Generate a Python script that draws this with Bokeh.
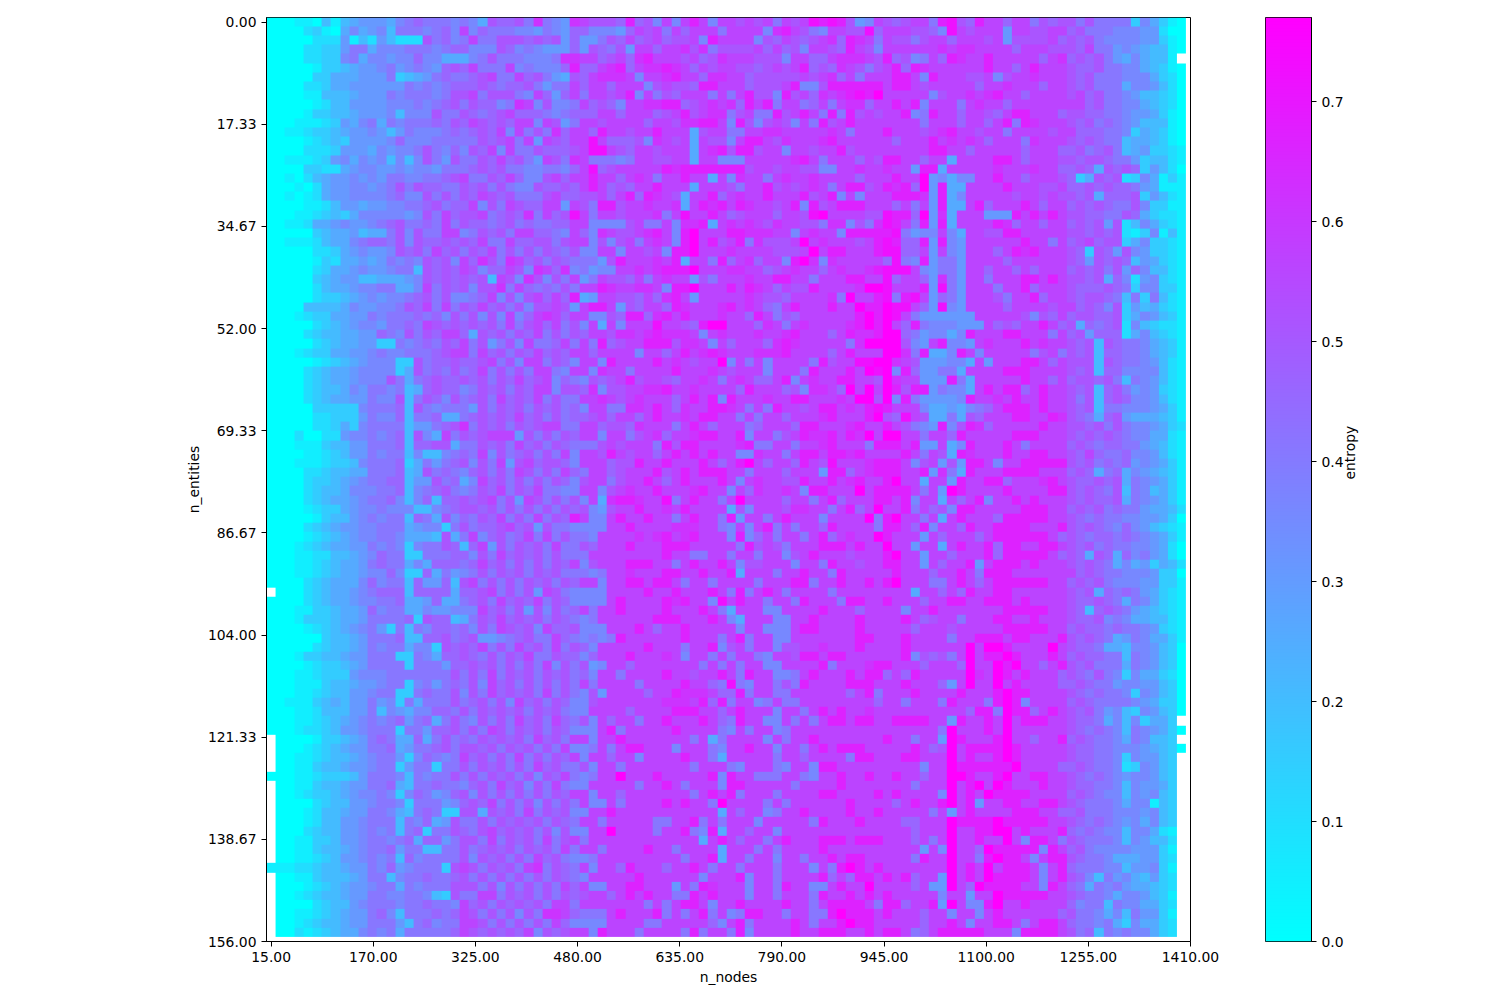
import math
import numpy as np
from bokeh.embed import file_html
from bokeh.layouts import row
from bokeh.models import FixedTicker, LinearColorMapper, Range1d
from bokeh.plotting import figure
from bokeh.resources import INLINE

x_tick_labels = ["15.00","170.00","325.00","480.00","635.00","790.00","945.00","1100.00","1255.00","1410.00"]
y_tick_labels = ["0.00","17.33","34.67","52.00","69.33","86.67","104.00","121.33","138.67","156.00"]
cbar_ticks = [0.0,0.1,0.2,0.3,0.4,0.5,0.6,0.7]
entropy_max = 0.77
n_cells = 100

# Cell values, one hex digit per cell: 0 = 0.0, f = entropy_max, "." = no data.
left_rows = [
"000110414566657898887875a99a8c876","000023105756748887897b79888776876","00000222614264222a8978b88aaa9a9a6","0000223368857778887899777a9787666",
"000022337857767797755578a8887778c","00000133456678678769a9b888b787779","00000335556668345689889ab88b9a865","00002235566666687878999a9899a8688",
"00001144456668788878aab8aaa87b969","00000124466667778789a8a9978cb7a77","000013344566674777a88a989ab999878","00011123657858788898a9ba9a9bb7ba6",
"00112334566764687778989a9b7b8a8c9","00001234366667977788888a9ab8b6ba9","00002223666576778a8797a9b7b88a999","00111236757674747a86a88a9b9a86ba8",
"00003322567766767768889a9a8877887","00102456676768877889ab88a9b977ab9","00010256677678a8a9988a9a8a877a99a","00101256677778977a8a8a9ba9a888ab9",
"000011246656677889a899b7a8ba99bb6","00011234357777767a8b9aab89a9c8b9a","00112556766789a8898b8a9989a898899","00000345564558a7a88bb78a9a8bb9987",
"00111245578998a7a99a9a9b88b99aa8a","00000223567667a9a8b9a8a9b8a8a8a98","00000132556568787a9a7b9ca8cb9a8a9","00000235567667884a9a9ba799ba7cb9c",
"00000345664455567a9a9a9a4ba7ca7a8","00000245567788557b8a9a7aac8b9898a","00000233456767789a8a7789b7a7ab9b9","000044445766778a9b8b8a9b9a8a7aaba",
"00012335566878889897a8a7a7b79bcb9","00000234567768898ba9a9a9a8b8ab9b8",
"00002344556 6987a8a9bb9 5a9a8a9b8a8","00000234556 63387898a9b 8a68a7b889b","00012335566 78778889abb 8b9a8a9b9a9","00000123456 77733a899a9 9ab8a7bb8a9",
"00002345567 77735a898a8 9b8a8a8bb87","00002345567 77a8589a99a 9a8a9b9ab79","00002344576 8878459a997 8a9a8a9bb7a","00002345566 877a48a97a8 9a8b9a9b8a8",
"00000333337 88894a87888 6a8a9a8a9a8","00000223336 87794889558 9a9a9b9a8a8","00000223537 888846689ac 8a9a8a9abb8","00020022677 87894a75b8a 9abbb6a8a8a",
"00011134466 8889499aa58 8a9a8b9a8a9","00001123466 87884744789 8b7a89a8a8b","00011123347 8889358689a 7a8b6ab9aa9","00002234455 888945a8987 9a8a8ba8a8b",
"00002334567 8899466a895 7b9a8a8a8a9","00002344577 78894789a87 8a9b8a9b887","00002345567 8897479499a 9ab8a6ba8a8","00001233567 7877744789a a9a8a8a8a8a",
"00000134467 87884985a79 8a9b8a8b8a9","00002345667 7888567738a 899ab9a6a88","00001234567 78875554a58 b79a89b8b8a","00012345566 87873788a94 9b6a8a9a8b8",
"00011224456 79883388899 7a8b9a9a8a8","00011234556 89885759998 9b9a8a8a8a9","00011234556 77973395867 8a8a9a8a9a8","00002345557 9788496694a b8a8a8a9a8a",
".0002345567 89994999959 9ab8a8a6ba8","00002345567 78895569558 9a8b9a9b8a9","00011334556 97885576677 7b9a8a6a7a8","00013334556 888893a9945 8a9b9a9a8a9",
"00001234567 86384879989 7a8ba9a7b99","00000034456 88894499a89 a66789a88b9","00000234456 87885773a9a 9b8a8b9a8b8","00013344566 8883387599a 98a8a9b88a9",
"00001233456 88883888699 a9a8a8a8b7a","00011233367 778888888a8 a8b8a9a8a9a","00011134456 67883786898 a7b9a8a8a8a","00011234466 788338988a7 a8b9a9a8b8a",
"00111345466 867385888a8 9a8a7b9a8a9","00011244466 8476577998a 8a9a9a8a9a8","00011234567 878968958a8 7a8a8b9a8b9","00012234667 888388699a8 a8ba8a9a8a9",
".0000133456 89855958a89 8a9a9a8b9a8",".0001234566 88956889a8a a9a8a9a8a8b",".0011234456 7886379878b 9a8a8b8a8a9",".0011344566 7883688388a 8a9a8a8b9a8",
"00011233346 888748788a8 a8a9a8a7a9b",".0011344566 88954889887 9a8b9a7a8b8",".0012334567 7873798679a 7a8a8a8a8a9",".0000234466 78873888679 a9b8a8a7a8a",
".0001244566 8875489833a a5a9a8b8a9a",".0001244667 888487956a8 8a8a9a9a8a9",".0002344667 878489388a9 8ab9a9a8a7a",".0011334667 8878959968a a8b8a9a8b8a",
".0011344567 8896884488a 89a9a8a9a8b",".0011234667 8784978888a 7a9a8a8b9a8","11122344566 879678883ab a8a9a8bc8a9",".0011344456 8847889889a 8a8a8a8a8a9",
".0001234566 788587888aa a8a7a8a8a8b",".0012344566 887788743a8 8bb8a9a8a8a",".0000234467 8887889887b 9a8a9a9a8bb",".0011234566 8974888989b a8a8a7a8ccb",
".0012344566 8886489788b ba8a8a8a8b9",".0021234557 8785888889b a9a9a9b7a9a",
]

mid_rows = [
"cbaaa9d9a7b7bdb7bbabab8babededa67bb","9977769bab8b9bbb8bbbb7cdba87bbaae9a","9668a9b9ab9aab7dbbbb7a9ba9abc9dcb8","96a98a6bb9bbcac8aaaab9b9a7bba9dba7",
"cbb9ab9cdbbbab9acbbbaaa7bb99bcccba","d99bcd9bccdcb9babbaa9ababd9a9cba8a","a9bcccb7bbcdbb9ccbb9aaaaababc9b8bb","b9bb9bbb7abaa9ddbbb9aaabd77adddddd",
"b8bbabd7b8a9bbb8b8bdaa7dab9cbcdedf","8b9a97bbccdd9abcbc9dbd8bb89b8bcc9b","999bb9bbb9abdabcc8ab88dabdb8d8daba","8bbabbbb9bbaccddb7da7aba7b8dabdbbb",
"bb9dbbabbdbbb5abb88bbccbbbbbcb8bbb","bbeb999a7cbab5baa7bddbacbbbcdbbbbb","abeeba9bbabbb5bcdaddabb7bbabbdabbb","cb88878bbaabb5bb777bbbbbcdb8bbb9ba",
"9be9abbbbbdcdddddddabbabbaa77bbcbb","bbdbb9bcb8bbdbb5b7cbb8bcbbcbbbb9bb","9bdb9a9bbdbbb5bbba8bbdababcb8bddab","9aab9bd9dcba5bbd9bcbbdbbbdabd7b7bb",
"ba8ddabbcbbc5bdcdbdcbbabd7dabdddbb","eb8bbabbbc8bebbdb9abbb9bbaefbbbbaa","bb7777ab88b7ccd5bcbcbacbbaa8cc7a8c","b97cbaabcdb7dfbbbddcccbb7bcbb7dddd",
"bb7a7ab8bcb7dfbdabd8caaabfbcbbbabd","a77bb7bbab7ddfbbbcbbbbaaabfbddbbbd","8886adbbbcbd5bb8d9bc9bb7dfc7cbbbbb","78677bbcbcdddfbbbccbb9abcbb9bcbbcd",
"b68baa9b8bcbb6a8bbbcbbddbb8bbbddbb","8bbdcbbccb7ddfbbbdbdcb9baadbbbbcff","d56bbaa9b9cdb6bbbbbcbaa9bbbbc8fbbd","6bddb6a9bb9dcbbbcdbcb98bdbbbdbbfdd",
"bb77a9dd9cdbdbbbcbb9db8a9bbbbbbdfd","a7b5b7bbbebba9dffbbb9cb8bcbbbbcdfd","a9bbaccbcdcccb7bcbbbcbbcdbbb9bdccd","8b8d9abbdddaccb7b9bbb9cdcbbbbb8cff",
"bb9bbbb7bb9bdbcdcbbbcccdbbbb9bdbbb","7bb7dbbbbdbcbabbf7b8b7bbbb8dabbeef","bb7cbb8bbbbdbbbcbabbb7bbb8dbbbdbfe","87a9abdabba9bbcb8bcb99bd7bcbbddbba",
"a9c7aabbccdbbcbbbb9dbbb9a7ccb9fbfb","8bbcbabcbbb9bdbd7dbbbcbbddbbbcbffa","97bb88ccbdb9cbbddcb8b8dbbabddbcbde","99ab9bb9bdbbcbddbb8b8bb9bbbcdbbbdf",
"8bb9aa9cbbb8bdb9bbb89bbb9ddbbbcdbb","9bb7bb8abc9bbcddbbd7bb8abdccdbdcfb","888ababbb8daddbbbbcd88bb8bbcdbbb8d","7bbadbabb9bdbdbdbb77cbb8bddbddcdbb",
"7bbb9aadbbdbbbdb9bdfb9bb9dbaebbbcd","98bb9abbbdabdbdddbb8bbb9bbb6dd9bcd","7abb8abbdb9bdbbbdb7bcbbaadbbdbcdbb","7bb7abcbbdbbbcdbb7b9cbbcb7ddbbbfbd",
"a7b5cddcbbe8bdbb8bfbbbb9bb8bd9bbbd","9a76abbdbbcbdbbbb5a7bbbaccbb8bd9bf","db77bdbbdbb8bdbb8d6bb8bdbbb7bbbbf8","7777bbdbbbbcccbb87b7bd8b8bb9dbbbb8",
"887bbbbcbcdbcdbbb7d79b8bb8bd9bcbbf","8a9bbbdbbbdddbbbbb8daba8bbbdddbdbb","88bbbbbbbbdbb88bb8bb8bb7abdbbbabbb","b7abbbdddbb8bdbbdb7aabbb7bb8dbbabb",
"8878bbcbbbddbbdbbd5bbb8bbdbb8dbbbb","9bb7bbddbddb8bb8bbbb8bbbdd8bbdbbdb","7777bbbbdbbdbbbdb8d8bdb8bbbb8bbbbb","7777bdbbbbdcdbb7ebdbb8bb8dbbb8ddbb",
"9b8bbdbbbbdbbbdb85bbb77bbbbdbbb9bb","878bbbbbbdddbbbdb75bbb77bbdbbbbdbb","a777bbbdb9bbdbbbbb7bb777bddbbbbdbb","87878dbbbbbbdbbb8bd8bb77bbbbbbbddb",
"a97bbbbbdbbb8bbd7ab8bb7aabbcbbbdbb","979bbbdbbbcb7bb8b8bb87bbaddbddbbbb","8a67bb9bbbbbbb8b8b8bb77bbbbd8bbbcd","897bb8bbbbdbbabbdb8dbb778bdbbbdbdd",
"8b8bbbb8bbbbdbb98e87bb8a8dbbbbdddb","87a6bbbb9bbdcccb99d8bb88bbbbbb9bd8","77abbbbbbbcccbd9d8bb78b88bbbbbbbb9","77bbbb9bbbbdddbb9bdbbb7bb8bdbdbbcb",
"8a7b9bb8bbdbbbdb98dbb77b8b8bddbddb","777bd8bbbbbdbbbb87b8bb78bbbbbbbbbb","bb7bbdbbbbbbb8b58bbbb7b8bbdbbbbbbb","778b8bddbbb7bbb87bbdbb7bb8bdbdddbb",
"b7bb9bb7bbbbdbb85bbbbb8bb9bbbb8ddb","8a7bb8bbbbbbb8bbb87bbb87bb7ddbbbbb","878bbfbbbdbbbbbd7dbb888bb87bbdbbdb","77bbbbb8bbdb8bbb7ddbbbbb8bbbbdbbbb",
"bb7bb9bbbbbbb8bdbd8bbb8bbbbddbbbbd","8b77b8bbbbdbdbb8fbbbb8b8bbbbbbdbbb","77bbdbbbbbbbbbbb5b9bb78bbdbbbbdbbd","8bb8bbbbb88bbd8b8bbb7bbbbb8dbbbdbb",
"77bbfbbbb8bbd87d5bb9bb7bbbbbbbbbbb","b8bbbbbbbbbbbb5bdb9bb8bdbbbdddbddd","8bb8bbbbdbb8bbbb5bbb8b8bbbbdbbbbbb","778bbbbbbbbb8bbd5bb8bb7bb8bbdbddbb",
"8b7bb9dbbb9bbdb8bb8bbb8bbb7b8dfdbd","87bbbbbdbbbbbb7bbbd7bb8bbbbd9b9ddb","9b77bbddbbb6b8dcbbb7bb8dbb77bdbbfb","9abb9bdbdbb88dbdbbb7bb8bbb8dbbdbdb",
"8bbbbbbb8b8bddb7bbdbbbbdbb8bddddb8","9888bdbbbd8b8bd8b78ddbb8bb88dfdddb","7777bbbb88bbbbb97bd8bbbbdb8bbdfddb","bb7dbbb8bbbb8d8bb8d7bbbbdbbdddbbdb",
]

# Right part of each row, columns 67-77 ...
right_a = [
"a9abb8dea9d","bbbaa97ebab","baa8abb9bbb","bbbbbbcbccb","d9a78b9dcbb","bd9dcbbbbbb","bddb7dbbbaa","bddbabbbbb9","bbbbb7abbcb","bdbd7bbb8bc",
"bbd78dbb9bb","bbbb8bbb9bb","dbbbabcdbba","b9bbbdbcbcb","bbbbbddbb9b","ddbb9bb5bbb","cbb6dd5bbbb","bdbbf67577b","dcd9f6d55bb","bdddc6d57bb",
"b9b8b6d55bd","edd9f6c5bbb","edb8d6d5bbb","de8677b75bb","ed99d6d76bb","ee99b6b76bb","9e87d6886bb","eeeb76886bb","e9bb96c86bb","ebbbd6e86bb",
"e8deb6986bb","feeb96e76bb","feb8666666b","fb9d8777666","ff9867757db","ffa76bd776b","ffc8d557db7","fcba666775b","f7d966885bb","fcbb666d85b",
"fdadd68775b","f7d866667db","dbbb7556578","a9eba5585a9","dba876d7adc","ffbb8bb9dbb","ddbd66b57db","bbdb8ba5dcb","ddb7ab6a6dd","ddbbd6c85db",
"dfbb5bb6dbb","dddb8b6fdbb","dbd7bb5b9bd","bbd8b9a7ddb","dfbb8b5bdbb","ddb9d7bb9db","dbbb6b9bbb9","fbb6bb5bdbb","dfbb6bb9bbb","ddbb6b9bbd6",
"bdbbb9bbdb8","dfbbb88bdb9","bbb5bb9b9db","dbbb9bbddbb","bb7bbdbbbbb","bbdb9abb8bb","bbb9bbbabbb","bbdbbbb8bbd","bbdbbbbbbfb","bbd7a9a8bfb",
"dbbb9bbb9fb","9b9dbbbbbfc","bbdbbb96bfb","bbbdbbbbdbb","bb8bbb8dbbb","bbbbbbbbb9d","bddddbb6dbb","bbbbbb8fbbb","dbb8bb6fdbb","bbbdb9afbdd",
"bbddbbbfbdb","bbbb7bbfddd","bdbb9bbffdb","bbb8bbbfbdf","bdbbbb7fbdb","b9bdbbdfbd6","bbbbb8b6bdb","bb99bbbfddd","bbb9bbbfbbd","bbb9b8bfbbd",
"bbbb6b7fbb9","bbb8dbbfbb8","bbbbbbbfbdb","dbd9bb6fbdb","bbb9b66fb9f","dbbbbb7bb6b","dd9bbd6fb77","dbbb9bb7bb7","bbbb9bbdb7b","ddb89bddddd",
]
# ... columns 78-86 ...
right_b = [
"bb9bb8a9a","bb6bbaabb","ab6aaaab9","bbb9bbbaa","dbbbbb9bc","dbb9bdbbb","b7abbcbbb","bbcbbb9bb","cdbb9bbbb","bb9bbbbbb",
"a9bddbbb9","9bd8dcbbb","bb8bbbbab","9bbb8cbbb","bbbb9bbb9","bddb9bbba","bcbbbcbb9","bdbb9bbba","bbdbbbaab","bbbabbaba",
"9bbbdb9bb","666dbdbdb","bdc9bb9bb","aaddbbbbb","bbbbdbb8b","b9bdcdbbb","bb9bbbbbb","9bb9b9bbb","8bbbddbdb","b8bbd9bbb",
"ba8bbd9bb","bb9bbbbab","bbbba7a9b","b9a9bbdb9","bbddbbb8b","cbbbdbcbb","bbbbb8ab8","6bbbddb9b","bbdddbbbb","bbbbdbb9b",
"dbdd9bdbb","bcbdbbdbb","9bdddbdbb","bbbddbbdc","9bbbbbdbb","bbbdddbbb","bbdb8bbbb","bbdbbddbb","b7bbddddd","bbddddbbb",
"dd9bbbcdb","bbdbbbbdd","7bbdbdbbb","bbbbdddbb","b9dddddbb","bddddbbbd","bddddddb9","d9ddbbddb","d9dddddb9","bdddbdbbb",
"dddbbbbbb","bddddddbb","bddbbbbbb","dddbdbbbb","bbdddddbb","bddbbdbbb","bbdddddbb","ddbddbbbd","ffdbbbbfb","ddfdbbbdb",
"bfdfbb9bd","bfdbdbbb9","bfbdbbbb9","bdfddbbbb","8dfd7bbbb","d8fdd9bdb","dbfbdddbb","dbfbbbbbb","bdfbb9bbd","ddfdbbbbb",
"bdfdbbbbb","dddfbbbb9","bdfbbddbb","bfdbbbdbb","fddddbbbb","bbddbbddb","bbbdddbb9","dfdddddbb","dffbdbbbd","bbfb7ddb8",
"fddddd7db","dfddb7bdd","fbdddb7bd","fddddb7bd","ddddbb7db","bfdddddbb","dfbbdbbbb","bdbbbbbb9","bddb8bddb","bbb7ddddb",
]
# ... columns 87-99, where the blue-to-cyan edge and the no-data gaps are.
right_c = [
"a8a8888375310","9a88877766200","a9a8777766310","a9b8867654410","9a9a86575441.","a99a887754310","a9a8887775320","a9a8885776420","ab9a887644320","bb9a887754320",
"aa99887665310","a9a8987644410","b999887354310","a9a9884554310","9a89a84563321","a9aa988634421","9a95a9a936420","935a9a2375131","99a9a99865111","a9a5999a36421",
"9a9a988a73311","aa9988a953221","9a9a6a2475321","aa9a9a2137141","9ab9aa3573321","a93a96a763321","a96a9a9465321","9a9a8a6974421","aa9a597267321","a999a98377331",
"a9aa984838421","b9a97a3645321","9aa99a3576431","a5989a2743221","9a69992574321","a9a4a98875431","a9a4998875431","aaa4a98876421","a9a4997777421","9aa9a84876421",
"a9a49a8676321","a8a49a9776421","a9a4887776531","a9859a6555431","aa9a8a8776532","a9a9a98775521","9a98998865421","a9b9889776421","a9a8989676531","9a95895765431",
"a99a9a5876531","a9a98a4874531","a9a99a5876531","9a9a898865542","a989887766530","a9a9879764321","a989989876531","a9a8988776520","a95a959786520","a9a9857563542",
"b9a9887776330","9a9a877766331","a9a5989865321","a99a985875321","a949a98654321","a99a787554421","9a99898876321","a9a9856875531","a998554776430","9a99884876430",
"a9a8885876430","a98a873755320","9a98867766430","a989887376430","9a98888765330","a9a8674376430","a99857473553.","a989874876530","9a9887587443.","a998877765430",
"a99887376643.","9a9887237643.","a98987677643.","a99887476653.","9a9877476743.","a98887577143.","9a8887776743.","a98987675743.","989877477521.","a98887476442.",
"9a8777766631.","a98875556632.","988877466731.","a97486754632.","985878655432.","a98875776431.","978848775532.","a88757486631.","988785375532.","a89487877532.",
]

def to_cells(rows, size):
    out = []
    for text in rows:
        text = text.replace(" ", "")
        text = (text + text[-1] * size)[:size]
        out.append([np.nan if c == "." else int(c, 16) / 15 * entropy_max for c in text])
    return np.array(out)

grid = np.hstack([to_cells(left_rows, 33), to_cells(mid_rows, 34), to_cells(right_a, 11),
                  to_cells(right_b, 9), to_cells(right_c, 13)])

palette = ["#%02x%02xff" % (i, 255 - i) for i in range(256)]
mapper = LinearColorMapper(palette=palette, low=0, high=entropy_max, nan_color=(0, 0, 0, 0))
FONT = "DejaVu Sans"

def style_axis(ax):
    ax.major_label_text_font = FONT
    ax.major_label_text_font_size = "13.9px"
    ax.major_label_text_color = "black"
    ax.axis_label_text_font = FONT
    ax.axis_label_text_font_size = "13.9px"
    ax.axis_label_text_font_style = "normal"
    ax.axis_label_text_color = "black"
    ax.axis_line_color = "black"
    ax.major_tick_line_color = "black"
    ax.major_tick_in = 0
    ax.major_tick_out = 5
    ax.minor_tick_line_color = None

# Row 0 is at the top: the y scale counts upward from the bottom of the frame.
p = figure(frame_width=924, frame_height=924, output_backend="svg", toolbar_location=None,
           x_range=Range1d(-0.5, n_cells), y_range=Range1d(-0.5, n_cells),
           min_border_left=266, min_border_top=17, min_border_right=31, min_border_bottom=59,
           x_axis_label="n_nodes", y_axis_label="n_entities")
p.grid.visible = False
p.outline_line_color = "black"
p.image(image=[grid[::-1]], x=-0.5, y=0, dw=n_cells, dh=n_cells, color_mapper=mapper)
positions = np.linspace(0, n_cells, 10).tolist()
xaxis, yaxis = p.xaxis[0], p.yaxis[0]
style_axis(xaxis)
style_axis(yaxis)
xaxis.ticker = FixedTicker(ticks=positions)
xaxis.major_label_overrides = dict(zip(positions, x_tick_labels))
y_positions = [n_cells - 0.5 - t for t in positions]
yaxis.ticker = FixedTicker(ticks=y_positions)
yaxis.major_label_overrides = dict(zip(y_positions, y_tick_labels))
xaxis.major_label_standoff = 5
xaxis.axis_label_standoff = 4
yaxis.major_label_standoff = 5
yaxis.axis_label_standoff = 3

c = figure(frame_width=46, frame_height=924, output_backend="svg", toolbar_location=None,
           x_range=Range1d(0, 1), y_range=Range1d(0, entropy_max), y_axis_location="right",
           min_border_left=44, min_border_top=17, min_border_right=60, min_border_bottom=59,
           y_axis_label="entropy")
c.grid.visible = False
c.xaxis.visible = False
c.outline_line_color = "black"
gradient = np.linspace(0, entropy_max, 256).reshape(256, 1)
c.image(image=[gradient], x=0, y=0, dw=1, dh=entropy_max, color_mapper=mapper)
caxis = c.yaxis[0]
style_axis(caxis)
caxis.ticker = FixedTicker(ticks=cbar_ticks)
caxis.major_label_overrides = {t: "%.1f" % t for t in cbar_ticks}
caxis.major_label_standoff = 5
caxis.axis_label_standoff = 3
caxis.axis_label_orientation = math.pi / 2

layout = row(p, c, spacing=0)
open("out.html", "w").write(file_html(layout, INLINE))
